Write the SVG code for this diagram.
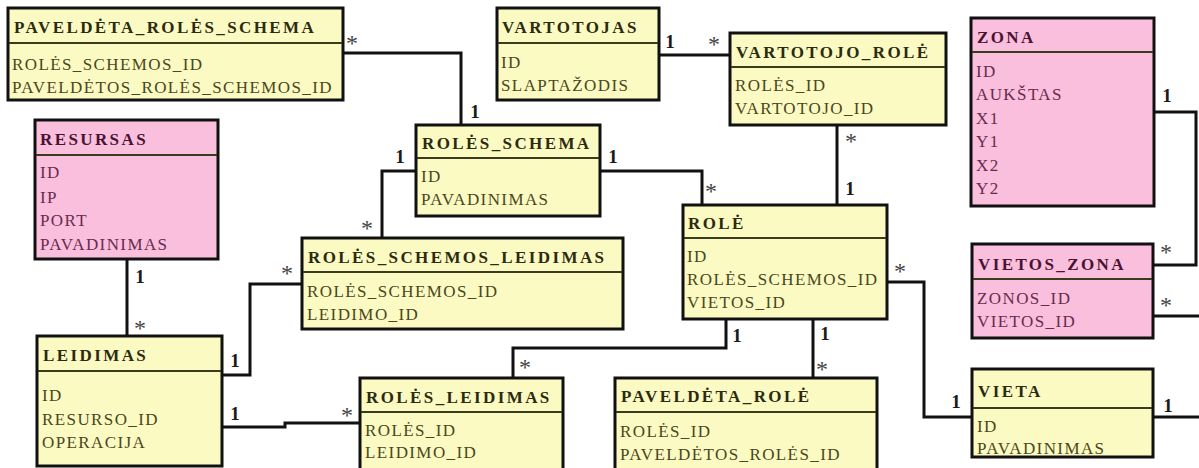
<svg xmlns="http://www.w3.org/2000/svg" width="1199" height="468" viewBox="0 0 1199 468">
  <style>
    .box { stroke: #111; stroke-width: 3; }
    .yel { fill: #fafac2; }
    .pink { fill: #f9bfdc; }
    .div { stroke: #3a3a1c; stroke-width: 2; }
    .title { font-family: "Liberation Serif", "Times New Roman", serif; font-weight: bold; font-size: 17px; letter-spacing: 2.4px; fill: #2c2a10; }
    .attr { font-family: "Liberation Serif", "Times New Roman", serif; font-size: 17px; letter-spacing: 1.4px; fill: #4a471c; }
    .pink-t .title { fill: #4a1232; }
    .pink-t .attr { fill: #6a2a4e; }
    .conn path { fill: none; stroke: #111; stroke-width: 3; }
    .one { font-family: "Liberation Serif", "Times New Roman", serif; font-weight: bold; font-size: 19px; fill: #1a1a1a; text-anchor: middle; }
    .many { font-family: "Liberation Serif", "Times New Roman", serif; font-size: 24px; fill: #444; text-anchor: middle; }
  </style>
  <rect width="1199" height="468" fill="#fff"/>

  <!-- connectors -->
  <g id="connectors" class="conn">
    <path d="M343,53 H461 V125"/>
    <path d="M659,55 H730"/>
    <path d="M837,125 V205"/>
    <path d="M1154,112 H1196 V265 H1153"/>
    <path d="M1153,316 H1203 V417 H1153"/>
    <path d="M887,282 H924 V417 H972"/>
    <path d="M600,171 H702 V205"/>
    <path d="M382,238 V171 H416"/>
    <path d="M222,375 H250 V284 H302"/>
    <path d="M222,427 H285 V423 H360"/>
    <path d="M726,319 V348 H513 V378"/>
    <path d="M813,319 V378"/>
    <path d="M127,259 V336"/>
  </g>

  <!-- multiplicities -->
  <g id="multiplicities">
    <text class="one" x="475" y="118">1</text>
    <text class="many" x="352" y="51">*</text>
    <text class="one" x="670" y="48">1</text>
    <text class="many" x="714" y="52">*</text>
    <text class="many" x="851" y="149">*</text>
    <text class="one" x="850" y="195">1</text>
    <text class="one" x="1167" y="102">1</text>
    <text class="many" x="1166" y="260">*</text>
    <text class="many" x="1166" y="313">*</text>
    <text class="one" x="1168" y="412">1</text>
    <text class="many" x="900" y="279">*</text>
    <text class="one" x="956" y="408">1</text>
    <text class="one" x="613" y="163">1</text>
    <text class="many" x="711" y="199">*</text>
    <text class="one" x="400" y="163">1</text>
    <text class="many" x="367" y="236">*</text>
    <text class="one" x="235" y="367">1</text>
    <text class="many" x="287" y="281">*</text>
    <text class="one" x="235" y="420">1</text>
    <text class="many" x="347" y="423">*</text>
    <text class="one" x="737" y="342">1</text>
    <text class="many" x="525" y="375">*</text>
    <text class="one" x="825" y="340">1</text>
    <text class="many" x="822" y="377">*</text>
    <text class="one" x="140" y="283">1</text>
    <text class="many" x="140" y="336">*</text>
  </g>

  <!-- tables -->
  <g id="paveldeta_roles_schema">
    <rect class="box yel" x="8" y="8" width="335" height="92"/>
    <line class="div" x1="9" y1="43" x2="342" y2="43"/>
    <text class="title" x="14" y="33">PAVELDĖTA_ROLĖS_SCHEMA</text>
    <text class="attr" x="12" y="70">ROLĖS_SCHEMOS_ID</text>
    <text class="attr" x="12" y="93">PAVELDĖTOS_ROLĖS_SCHEMOS_ID</text>
  </g>

  <g id="vartotojas">
    <rect class="box yel" x="497" y="8" width="162" height="92"/>
    <line class="div" x1="498" y1="43" x2="658" y2="43"/>
    <text class="title" x="502" y="33">VARTOTOJAS</text>
    <text class="attr" x="501" y="68">ID</text>
    <text class="attr" x="501" y="91">SLAPTAŽODIS</text>
  </g>

  <g id="vartotojo_role">
    <rect class="box yel" x="730" y="33" width="216" height="92"/>
    <line class="div" x1="731" y1="67" x2="945" y2="67"/>
    <text class="title" x="736" y="58">VARTOTOJO_ROLĖ</text>
    <text class="attr" x="735" y="91">ROLĖS_ID</text>
    <text class="attr" x="735" y="114">VARTOTOJO_ID</text>
  </g>

  <g id="zona" class="pink-t">
    <rect class="box pink" x="971" y="18" width="183" height="188"/>
    <line class="div" x1="972" y1="52" x2="1153" y2="52"/>
    <text class="title" x="977" y="43">ZONA</text>
    <text class="attr" x="976" y="77">ID</text>
    <text class="attr" x="976" y="100">AUKŠTAS</text>
    <text class="attr" x="976" y="124">X1</text>
    <text class="attr" x="976" y="147">Y1</text>
    <text class="attr" x="976" y="171">X2</text>
    <text class="attr" x="976" y="194">Y2</text>
  </g>

  <g id="resursas" class="pink-t">
    <rect class="box pink" x="35" y="120" width="183" height="139"/>
    <line class="div" x1="36" y1="155" x2="217" y2="155"/>
    <text class="title" x="40" y="145">RESURSAS</text>
    <text class="attr" x="40" y="178">ID</text>
    <text class="attr" x="40" y="203">IP</text>
    <text class="attr" x="40" y="226">PORT</text>
    <text class="attr" x="40" y="250">PAVADINIMAS</text>
  </g>

  <g id="roles_schema">
    <rect class="box yel" x="416" y="125" width="184" height="91"/>
    <line class="div" x1="417" y1="158" x2="599" y2="158"/>
    <text class="title" x="422" y="149">ROLĖS_SCHEMA</text>
    <text class="attr" x="421" y="182">ID</text>
    <text class="attr" x="421" y="205">PAVADINIMAS</text>
  </g>

  <g id="roles_schemos_leidimas">
    <rect class="box yel" x="302" y="238" width="321" height="91"/>
    <line class="div" x1="303" y1="272" x2="622" y2="272"/>
    <text class="title" x="308" y="263">ROLĖS_SCHEMOS_LEIDIMAS</text>
    <text class="attr" x="307" y="297">ROLĖS_SCHEMOS_ID</text>
    <text class="attr" x="307" y="320">LEIDIMO_ID</text>
  </g>

  <g id="role">
    <rect class="box yel" x="683" y="205" width="204" height="114"/>
    <line class="div" x1="684" y1="238" x2="886" y2="238"/>
    <text class="title" x="688" y="229">ROLĖ</text>
    <text class="attr" x="687" y="262">ID</text>
    <text class="attr" x="687" y="285">ROLĖS_SCHEMOS_ID</text>
    <text class="attr" x="687" y="308">VIETOS_ID</text>
  </g>

  <g id="vietos_zona" class="pink-t">
    <rect class="box pink" x="972" y="244" width="181" height="94"/>
    <line class="div" x1="973" y1="279" x2="1152" y2="279"/>
    <text class="title" x="978" y="270">VIETOS_ZONA</text>
    <text class="attr" x="977" y="304">ZONOS_ID</text>
    <text class="attr" x="977" y="327">VIETOS_ID</text>
  </g>

  <g id="leidimas">
    <rect class="box yel" x="37" y="336" width="185" height="130"/>
    <line class="div" x1="38" y1="371" x2="221" y2="371"/>
    <text class="title" x="43" y="361">LEIDIMAS</text>
    <text class="attr" x="42" y="401">ID</text>
    <text class="attr" x="42" y="425">RESURSO_ID</text>
    <text class="attr" x="42" y="448">OPERACIJA</text>
  </g>

  <g id="roles_leidimas">
    <rect class="box yel" x="360" y="378" width="203" height="100"/>
    <line class="div" x1="361" y1="412" x2="562" y2="412"/>
    <text class="title" x="366" y="403">ROLĖS_LEIDIMAS</text>
    <text class="attr" x="365" y="436">ROLĖS_ID</text>
    <text class="attr" x="365" y="458">LEIDIMO_ID</text>
  </g>

  <g id="paveldeta_role">
    <rect class="box yel" x="615" y="378" width="262" height="100"/>
    <line class="div" x1="616" y1="412" x2="876" y2="412"/>
    <text class="title" x="621" y="402">PAVELDĖTA_ROLĖ</text>
    <text class="attr" x="620" y="437">ROLĖS_ID</text>
    <text class="attr" x="620" y="460">PAVELDĖTOS_ROLĖS_ID</text>
  </g>

  <g id="vieta">
    <rect class="box yel" x="972" y="369" width="181" height="88"/>
    <line class="div" x1="973" y1="408" x2="1152" y2="408"/>
    <text class="title" x="978" y="397">VIETA</text>
    <text class="attr" x="977" y="432">ID</text>
    <text class="attr" x="977" y="454">PAVADINIMAS</text>
  </g>
</svg>
